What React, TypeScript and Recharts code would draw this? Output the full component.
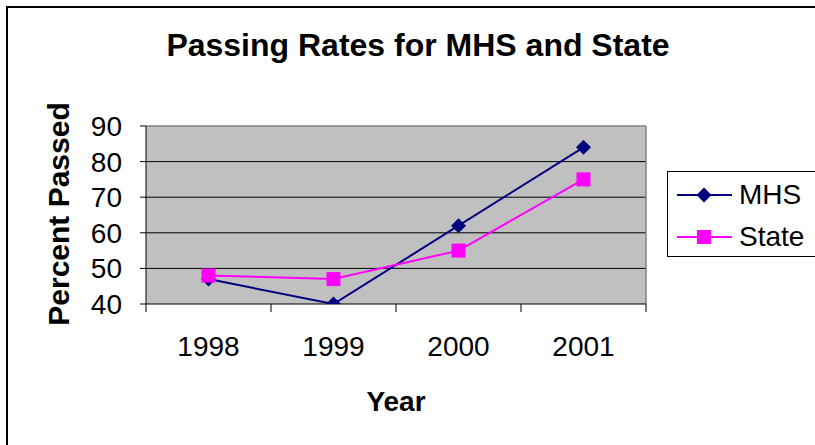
import React from 'react';
import {
  LineChart,
  Line,
  XAxis,
  YAxis,
  CartesianGrid,
} from 'recharts';

const years = ['1998', '1999', '2000', '2001'];
const mhsRates = [47, 40, 62, 84];
const stateRates = [48, 47, 55, 75];
const yTicks = [40, 50, 60, 70, 80, 90];

const data = years.map((year, i) => ({ year, MHS: mhsRates[i], State: stateRates[i] }));

const FONT = '"Liberation Sans", Arial, sans-serif';
const NAVY = '#000080';
const MAGENTA = '#FF00FF';

// plot box inside the 815x445 picture
const PLOT_LEFT = 146;
const PLOT_TOP = 126;
const PLOT_RIGHT = 646;
const PLOT_BOTTOM = 304;
const BAND = (PLOT_RIGHT - PLOT_LEFT) / years.length;

const Diamond = (props: any) => {
  const { cx, cy, fill } = props;
  if (cx == null || cy == null) return null;
  const r = 7.5;
  return (
    <path
      d={`M${cx},${cy - r} L${cx + r},${cy} L${cx},${cy + r} L${cx - r},${cy} Z`}
      fill={fill}
    />
  );
};

const Square = (props: any) => {
  const { cx, cy, fill } = props;
  if (cx == null || cy == null) return null;
  const s = 7;
  return <rect x={cx - s} y={cy - s} width={s * 2} height={s * 2} fill={fill} />;
};

// category axis: labels centred, tick marks on the category boundaries
const YearTick = (props: any) => {
  const { x, y, payload, index } = props;
  const last = index === years.length - 1;
  return (
    <g>
      <line x1={x - BAND / 2} y1={y} x2={x - BAND / 2} y2={y + 8} stroke="#000" strokeWidth={1} />
      {last && <line x1={x + BAND / 2} y1={y} x2={x + BAND / 2} y2={y + 8} stroke="#000" strokeWidth={1} />}
      <text x={x} y={y + 42} textAnchor="middle" dominantBaseline="central" fontSize={28} fontFamily={FONT} fill="#000">
        {payload.value}
      </text>
    </g>
  );
};

const LegendRow = ({ label, color, kind }: { label: string; color: string; kind: 'diamond' | 'square' }) => (
  <div style={{ display: 'flex', alignItems: 'center', height: 42 }}>
    <svg width={58} height={20} style={{ marginRight: 5 }}>
      <line x1={1} y1={10} x2={56} y2={10} stroke={color} strokeWidth={2} />
      {kind === 'diamond' ? <Diamond cx={28} cy={10} fill={color} /> : <Square cx={28} cy={10} fill={color} />}
    </svg>
    <span style={{ fontSize: 28, lineHeight: '28px' }}>{label}</span>
  </div>
);

export default function App() {
  return (
    <div
      style={{
        position: 'fixed',
        left: 0,
        top: 0,
        width: 815,
        height: 445,
        overflow: 'hidden',
        background: '#fff',
        fontFamily: FONT,
      }}
    >
      <div
        style={{
          position: 'absolute',
          left: 6,
          top: 6,
          width: 900,
          height: 600,
          border: '2px solid #000',
        }}
      />
      <div
        style={{
          position: 'absolute',
          left: 118,
          top: 26,
          width: 600,
          textAlign: 'center',
          fontSize: 32,
          fontWeight: 'bold',
          lineHeight: '38px',
        }}
      >
        Passing Rates for MHS and State
      </div>

      <div style={{ position: 'absolute', left: 0, top: 0 }}>
        <LineChart
          width={815}
          height={445}
          data={data}
          margin={{ top: PLOT_TOP, right: 815 - PLOT_RIGHT, bottom: 0, left: 0 }}
        >
          <CartesianGrid
            vertical={false}
            horizontalValues={[50, 60, 70, 80]}
            stroke="#000"
            strokeWidth={1}
            fill="#C0C0C0"
            fillOpacity={1}
          />
          {/* grey frame on the top and right of the plot area */}
          <CartesianGrid
            horizontalValues={[90]}
            verticalCoordinatesGenerator={({ offset }: any) => [offset.left + offset.width]}
            stroke="#808080"
            strokeWidth={1.5}
          />
          <XAxis
            dataKey="year"
            height={445 - PLOT_BOTTOM}
            padding={{ left: BAND / 2, right: BAND / 2 }}
            axisLine={{ stroke: '#000', strokeWidth: 1 }}
            tickLine={false}
            tickSize={0}
            tickMargin={0}
            interval={0}
            tick={<YearTick />}
            label={{
              value: 'Year',
              position: 'insideBottom',
              offset: 34,
              fontSize: 28,
              fontWeight: 'bold',
              fontFamily: FONT,
              fill: '#000',
            }}
          />
          <YAxis
            width={PLOT_LEFT}
            domain={[40, 90]}
            ticks={yTicks}
            interval={0}
            allowDataOverflow
            axisLine={{ stroke: '#000', strokeWidth: 1 }}
            tickLine={{ stroke: '#000', strokeWidth: 1 }}
            tickSize={6}
            tickMargin={18}
            tick={{ fontSize: 28, fontFamily: FONT, fill: '#000' }}
            label={{
              content: () => (
                <text
                  x={58}
                  y={214}
                  transform="rotate(-90 58 214)"
                  textAnchor="middle"
                  dominantBaseline="central"
                  fontSize={30}
                  fontWeight="bold"
                  fontFamily={FONT}
                  fill="#000"
                >
                  Percent Passed
                </text>
              ),
            }}
          />
          <Line
            type="linear"
            dataKey="MHS"
            stroke={NAVY}
            strokeWidth={2}
            dot={(p: any) => <Diamond key={`m-${p.index}`} cx={p.cx} cy={p.cy} fill={NAVY} />}
            isAnimationActive={false}
          />
          <Line
            type="linear"
            dataKey="State"
            stroke={MAGENTA}
            strokeWidth={2}
            dot={(p: any) => <Square key={`s-${p.index}`} cx={p.cx} cy={p.cy} fill={MAGENTA} />}
            isAnimationActive={false}
          />
        </LineChart>
      </div>

      <div
        style={{
          position: 'absolute',
          left: 667,
          top: 171,
          width: 160,
          height: 86,
          border: '1px solid #000',
          boxSizing: 'border-box',
          paddingLeft: 8,
          paddingTop: 2,
        }}
      >
        <LegendRow label="MHS" color={NAVY} kind="diamond" />
        <LegendRow label="State" color={MAGENTA} kind="square" />
      </div>
    </div>
  );
}
